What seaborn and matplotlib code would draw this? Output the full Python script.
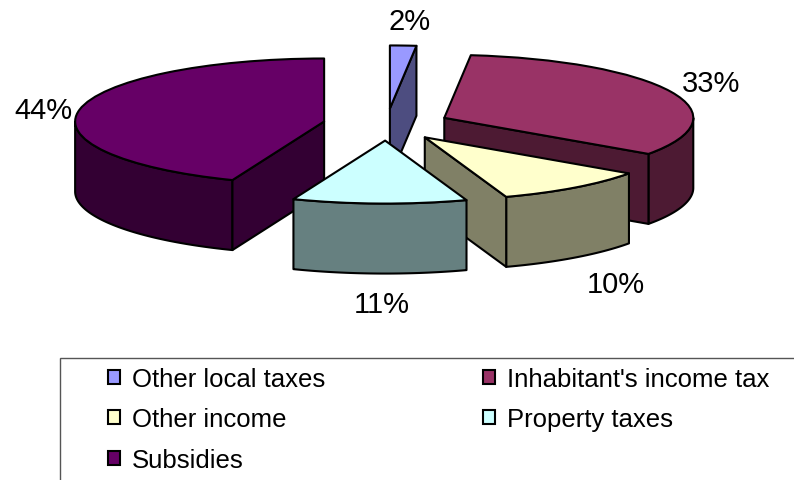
import numpy as np
import seaborn as sns
import matplotlib
matplotlib.use('Agg')
import matplotlib.pyplot as plt
from matplotlib.patches import Polygon, Rectangle

# slices, clockwise from 12 o'clock (shares estimated, the labels are rounded)
categories = ['Other local taxes', "Inhabitant's income tax", 'Other income',
              'Property taxes', 'Subsidies']
shares = [1.7, 33, 10, 11.3, 44]
top_hex = ['#9999FF', '#993366', '#FFFFCC', '#CCFFFF', '#660066']

W, H = 794, 481
CX, CY = 386.5, 125.5  # pie centre, px
RX, RY = 249, 63       # px per data unit
DEPTH = 70 / RY
EDGE = '#000000'
LW = 1.5

sns.set_theme(style='white')
plt.rcParams['font.family'] = ['Liberation Sans', 'DejaVu Sans']

top_colors = sns.color_palette(top_hex)
wall_colors = [tuple(c / 2 for c in col) for col in top_colors]

fig = plt.figure(figsize=(W / 100, H / 100), dpi=100, facecolor='white')
ax = fig.add_axes([0, 0, 1, 1])

wedges, _, pct_texts = ax.pie(shares, colors=top_colors, startangle=90, counterclock=False,
                              explode=[0.255] * len(shares), radius=1, autopct='%.0f%%',
                              wedgeprops=dict(edgecolor=EDGE, linewidth=LW, joinstyle='round'),
                              textprops=dict(fontsize=21, color='black'))
ax.set_aspect('auto')
ax.set_xlim(-CX / RX, (W - CX) / RX)
ax.set_ylim(-(H - CY) / RY, CY / RY)

# painter's order, back to front
draw_order = [0, 4, 1, 2, 3]
label_offset = [(0.08, 1.39), (1.07, 0.56), (0.766, -2.335), (-0.014, -2.60), (-1.128, 0.19)]


def wall(pts, color, z):
    pts = np.asarray(pts)
    low = pts - [0, DEPTH]
    ax.add_patch(Polygon(np.vstack([pts, low[::-1]]), closed=True, facecolor=color,
                         edgecolor=EDGE, linewidth=LW, joinstyle='round', zorder=z))


for k, i in enumerate(draw_order):
    w = wedges[i]
    c = np.array(w.center)
    z = 2 + k
    col = wall_colors[i]
    # outer arc, front half only
    ang = np.radians(np.linspace(w.theta1, w.theta2, 240))
    ang = ang[np.sin(ang) <= 0]
    if len(ang) > 1:
        wall(c + np.column_stack([np.cos(ang), np.sin(ang)]), col, z)
    # flat cut faces that look to the front
    for th, seen in ((w.theta1, np.cos(np.radians(w.theta1)) > 1e-6),
                     (w.theta2, np.cos(np.radians(w.theta2)) < -1e-6)):
        if seen:
            a = np.radians(th)
            wall([c, c + [np.cos(a), np.sin(a)]], col, z)
    w.set_zorder(z + 0.5)
    pct_texts[i].set_position(c + label_offset[i])
    pct_texts[i].set_ha('center')
    pct_texts[i].set_va('center')
    pct_texts[i].set_zorder(20)

# legend box runs off the figure, only top and left sides show
ax.add_patch(Rectangle((60 / W, -0.2), 2, 0.2 + (H - 359) / H, transform=ax.transAxes,
                       fill=False, edgecolor='#555555', linewidth=1, clip_on=True, zorder=1))

leg_order = [0, 2, 4, 1, 3]
ax.legend([wedges[i] for i in leg_order], [categories[i] for i in leg_order],
          ncol=2, frameon=False, loc='upper left', bbox_to_anchor=(108 / W, 1 - 368 / H),
          fontsize=18.5, handlelength=0.48, handleheight=0.48, handletextpad=0.45,
          columnspacing=6.14, labelspacing=0.64, borderpad=0, borderaxespad=0,
          labelcolor='black')

fig.savefig('out.png', dpi=100, facecolor='white')
